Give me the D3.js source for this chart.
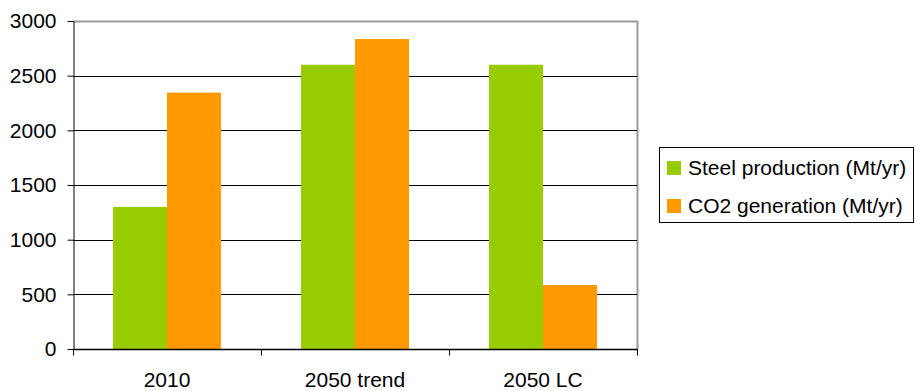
<!DOCTYPE html>
<html>
<head>
<meta charset="utf-8">
<script src="https://cdn.jsdelivr.net/npm/d3@7/dist/d3.min.js"></script>
<style>
  html, body { margin: 0; padding: 0; background: #fff; }
  svg { display: block; font-family: "Liberation Sans", Arial, sans-serif; }
</style>
</head>
<body>
<svg id="chart" width="916" height="391"></svg>
<script>
// Steel production vs CO2 generation by scenario
const categories = ["2010", "2050 trend", "2050 LC"];
const seriesNames = ["Steel production (Mt/yr)", "CO2 generation (Mt/yr)"];
const steelProduction = [1300, 2600, 2600];
const co2Generation = [2345, 2835, 585];
const yTicks = [0, 500, 1000, 1500, 2000, 2500, 3000];
const colors = ["#99cc00", "#ff9900"];

const series = [steelProduction, co2Generation];

const svg = d3.select("#chart");
const plot = { left: 73, right: 637, top: 21, bottom: 349 };
const fontSize = 21;

const x = d3.scaleBand()
  .domain(categories)
  .range([plot.left, plot.right])
  .paddingInner(0)
  .paddingOuter(0);

const x1 = d3.scaleBand()
  .domain(d3.range(series.length))
  .range([40, x.bandwidth() - 40]);

const y = d3.scaleLinear()
  .domain([0, 3000])
  .range([plot.bottom, plot.top]);

// plot area frame (top and right edges in grey)
svg.append("path")
  .attr("d", `M${plot.left},${plot.top + 0.5}H${plot.right + 0.5}V${plot.bottom}`)
  .attr("fill", "none")
  .attr("stroke", "#9a9a9a")
  .attr("stroke-width", 2);

// horizontal gridlines
svg.append("g")
  .selectAll("line")
  .data(yTicks.filter(t => t > 0 && t < 3000))
  .join("line")
  .attr("x1", plot.left)
  .attr("x2", plot.right)
  .attr("y1", d => Math.round(y(d)) + 0.5)
  .attr("y2", d => Math.round(y(d)) + 0.5)
  .attr("stroke", "#000")
  .attr("stroke-width", 1);

// bars
const groups = svg.append("g")
  .selectAll("g")
  .data(categories)
  .join("g")
  .attr("transform", d => `translate(${x(d)},0)`);

groups.selectAll("rect")
  .data((d, i) => series.map((s, k) => ({ k, v: s[i] })))
  .join("rect")
  .attr("x", d => x1(d.k))
  .attr("width", x1.bandwidth())
  .attr("y", d => y(d.v))
  .attr("height", d => y(0) - y(d.v))
  .attr("fill", d => colors[d.k]);

// y axis
const yAxis = svg.append("g")
  .attr("transform", `translate(${plot.left + 0.5},0)`)
  .call(d3.axisLeft(y).tickValues(yTicks).tickFormat(d3.format("d"))
    .tickSize(6).tickPadding(11).tickSizeOuter(0));
yAxis.selectAll("text").attr("font-size", fontSize).attr("fill", "#000")
  .attr("font-family", "Liberation Sans, Arial, sans-serif");
yAxis.selectAll("line, path").attr("stroke", "#000");

// x axis with ticks on category boundaries
const xAxis = svg.append("g")
  .attr("transform", `translate(0,${plot.bottom + 0.5})`);
xAxis.append("line")
  .attr("x1", plot.left).attr("x2", plot.right + 1)
  .attr("stroke", "#000").attr("stroke-width", 1.5);
const boundaries = categories.map(c => x(c)).concat([plot.right]);
xAxis.selectAll("line.tick")
  .data(boundaries)
  .join("line")
  .attr("class", "tick")
  .attr("x1", d => Math.round(d) + 0.5)
  .attr("x2", d => Math.round(d) + 0.5)
  .attr("y1", 0).attr("y2", 6)
  .attr("stroke", "#000");
xAxis.selectAll("text")
  .data(categories)
  .join("text")
  .attr("x", d => x(d) + x.bandwidth() / 2)
  .attr("y", 37)
  .attr("text-anchor", "middle")
  .attr("font-size", fontSize)
  .attr("fill", "#000")
  .text(d => d);

// legend
const legend = svg.append("g").attr("transform", "translate(659.5,147.5)");
legend.append("rect")
  .attr("width", 254).attr("height", 75)
  .attr("fill", "#fff").attr("stroke", "#000").attr("stroke-width", 1);
const items = legend.selectAll("g")
  .data(seriesNames)
  .join("g")
  .attr("transform", (d, i) => `translate(0,${13 + i * 38})`);
items.append("rect")
  .attr("x", 7.5).attr("y", 0.5)
  .attr("width", 14).attr("height", 14)
  .attr("fill", (d, i) => colors[i]);
items.append("text")
  .attr("x", 28.5).attr("y", 14)
  .attr("font-size", fontSize)
  .attr("fill", "#000")
  .text(d => d);
</script>
</body>
</html>
